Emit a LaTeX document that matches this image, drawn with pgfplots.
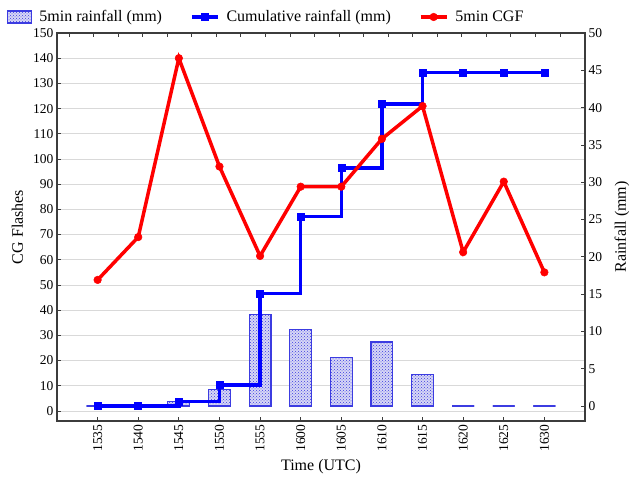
\documentclass[border=0pt]{standalone}
\usepackage{fontspec}
\setmainfont{Liberation Serif}
\usepackage{pgfplots}
\usepackage{pgfplotstable}
\pgfplotsset{compat=1.18}
\usetikzlibrary{patterns}

\definecolor{gridgray}{RGB}{217,217,217}
\definecolor{framegray}{RGB}{60,60,60}
\definecolor{barblue}{RGB}{60,60,225}
\definecolor{barfill}{RGB}{215,215,245}

% x  time  cgf  rain  cumulative
\pgfplotstableread{
x t cgf rain cum
0 1535 52 0 0
1 1540 69 0 0
2 1545 140 0.6 0.6
3 1550 97 2.2 2.8
4 1555 61.5 12.3 15.1
5 1600 89 10.3 25.4
6 1605 89 6.5 31.9
7 1610 108 8.6 40.5
8 1615 121 4.2 44.7
9 1620 63 0 44.7
10 1625 91 0 44.7
11 1630 55 0 44.7
}\data

\pgfplotsset{
  base/.style={
    scale only axis, width=528pt, height=388pt,
    axis line style={framegray, line width=1.2pt},
    tick style={framegray, line width=0.8pt},
    major tick length=4pt,
    tick label style={font=\fontsize{13.5}{16}\selectfont},
    label style={font=\fontsize{16}{19}\selectfont},
    /pgf/number format/assume math mode=true,
  },
  boxlegend/.style={legend image code/.code={%
    \draw[##1] (0pt,-6pt) rectangle (24pt,6pt);}},
  longlinelegend/.style={legend image code/.code={%
    \draw[mark repeat=2, mark phase=2, ##1]
      plot coordinates {(0pt,0pt) (13pt,0pt) (26pt,0pt)};}},
}

\begin{document}
\begin{tikzpicture}
% frame, grid and top ticks
\begin{axis}[base,
    xmin=-0.49, xmax=21.02, ymin=-4, ymax=150,
    xtick={0,...,20}, xticklabels={}, xtick pos=upper, tick align=inside,
    ytick={0,10,...,150}, yticklabels={}, ytick style={draw=none},
    ymajorgrids, major grid style={gridgray, line width=0.8pt},
]
\addplot[draw=none] coordinates {(0,0)};
\end{axis}
% right axis: rainfall
\begin{axis}[base,
    xmin=-1, xmax=12, ymin=-2, ymax=50,
    axis y line*=right, axis x line=none, tick align=inside,
    ytick={0,5,...,50},
    ylabel={Rainfall (mm)},
    % label is turned by 90 degrees: its y direction points left
    ylabel style={at={(rel axis cs:1,0.5)}, anchor=center, yshift=-37pt},
]
\addplot[ybar, bar width=0.54, draw=barblue, line width=1.2pt, fill=barfill,
    postaction={pattern=crosshatch dots, pattern color=barblue}]
    table[x=x, y=rain] {\data};
\addplot[const plot, blue, line width=3.5pt, mark=square*, mark size=3.5pt,
    mark options={solid, line width=0.5pt}]
    table[x=x, y=cum] {\data};
\end{axis}
% left axis: CG flashes
\begin{axis}[base, name=main,
    xmin=-1, xmax=12, ymin=-4, ymax=150,
    axis y line*=left, axis x line*=bottom, tick align=inside,
    ytick={0,10,...,150},
    xtick={0,...,11},
    xticklabels={1535,1540,1545,1550,1555,1600,1605,1610,1615,1620,1625,1630},
    xticklabel style={rotate=90, anchor=east},
    xlabel={Time (UTC)},
    xlabel style={at={(rel axis cs:0.5,0)}, anchor=center, yshift=-46pt},
    ylabel={CG Flashes},
    ylabel style={at={(rel axis cs:0,0.5)}, anchor=center, yshift=39.5pt},
    legend columns=3,
    legend style={at={(rel axis cs:0,1)}, anchor=west,
        xshift=-50pt, yshift=16pt, inner xsep=0pt, inner ysep=0pt,
        draw=none, fill=none, font=\fontsize{16}{19}\selectfont,
        /tikz/every odd column/.append style={column sep=5pt},
        /tikz/every even column/.append style={column sep=26pt}},
    longlinelegend,
]
\addlegendimage{draw=barblue, line width=1.2pt, fill=barfill,
    postaction={pattern=crosshatch dots, pattern color=barblue}, boxlegend}
\addlegendentry{5min rainfall (mm)}
\addlegendimage{blue, line width=3.5pt, mark=square*, mark size=3.5pt,
    mark options={solid, line width=0.5pt}}
\addlegendentry{Cumulative rainfall (mm)}
\addplot[red, line width=3.5pt, mark=*, mark size=3.8pt,
    mark options={solid, line width=0.5pt}]
    table[x=x, y=cgf] {\data};
\addlegendentry{5min CGF}
\end{axis}
% page size as in the reference: 630 x 479 round a 528 x 388 frame
\pgfresetboundingbox
\path ([shift={(-57pt,-58pt)}]main.south west)
    rectangle ([shift={(45pt,33pt)}]main.north east);
\end{tikzpicture}
\end{document}
